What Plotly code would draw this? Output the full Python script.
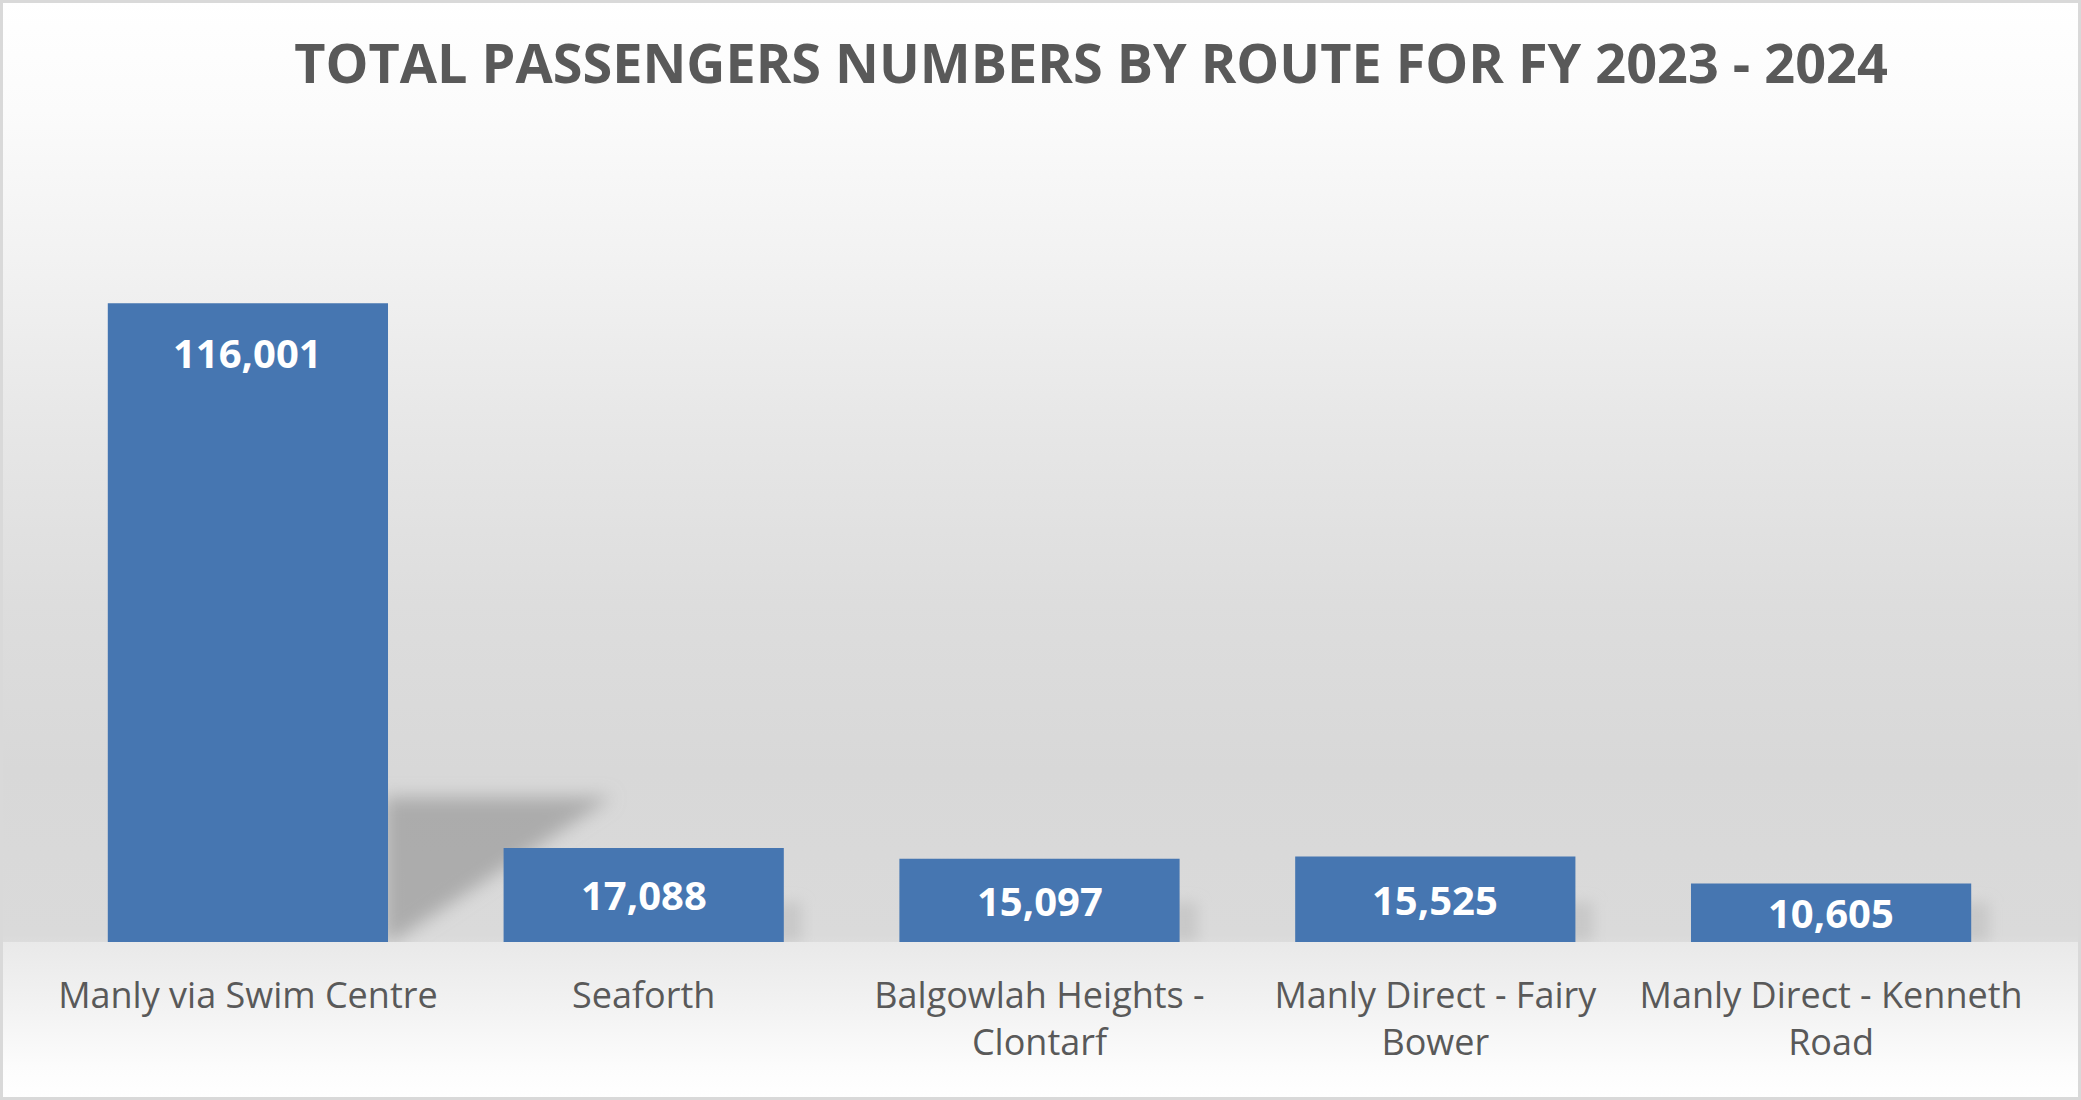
import base64
import plotly.graph_objects as go

# ---- data ----
routes = [
    "Manly via Swim Centre",
    "Seaforth",
    "Balgowlah Heights -<br>Clontarf",
    "Manly Direct - Fairy<br>Bower",
    "Manly Direct - Kenneth<br>Road",
]
passengers = [116001, 17088, 15097, 15525, 10605]
title_text = "TOTAL PASSENGERS NUMBERS BY ROUTE FOR FY 2023 - 2024"

# ---- layout geometry (pixels) ----
W, H = 2081, 1100
ML, MR, MT, MB = 50, 52, 171, 158
plot_w = W - ML - MR
plot_h = H - MT - MB
Y_MAX = 140000
BARGAP = 0.292
n = len(routes)
cat_w = plot_w / n
bar_w = cat_w * (1 - BARGAP)
base_y = MT + plot_h

def bar_px(v):
    return v / Y_MAX * plot_h

# ---- background: wall/floor gradient + soft bar shadows (svg) ----
stops = [
    (0.00, "#ffffff"), (0.10, "#fbfbfb"), (0.25, "#f1f1f1"), (0.40, "#e6e6e6"),
    (0.55, "#dddddd"), (0.70, "#d8d8d8"), (0.85, "#dadada"), (0.8560, "#dcdcdc"),
    (0.8565, "#e9e9e9"), (0.92, "#f3f3f3"), (0.97, "#fcfcfc"), (1.00, "#ffffff"),
]
stop_xml = "".join(f'<stop offset="{o}" stop-color="{c}"/>' for o, c in stops)

shadow_xml = ""
# perspective shadow behind the tallest bar
i_max = passengers.index(max(passengers))
rx = ML + cat_w * (i_max + 0.5) + bar_w / 2
sh_h = 0.227 * bar_px(passengers[i_max])
sh_w = 0.80 * bar_w
shadow_xml += (
    f'<polygon points="{rx - 4},{base_y} {rx - 4},{base_y - sh_h} {rx + sh_w},{base_y - sh_h} '
    f'{rx + 4},{base_y}" fill="#9c9c9c" fill-opacity="0.75" filter="url(#b1)"/>'
)
# small soft drop shadows to the right of the other bars
for i, v in enumerate(passengers):
    if i == i_max:
        continue
    rxi = ML + cat_w * (i + 0.5) + bar_w / 2
    hh = min(bar_px(v), 40)
    shadow_xml += (
        f'<rect x="{rxi - 10}" y="{base_y - hh}" width="28" height="{hh}" '
        f'fill="#bdbdbd" fill-opacity="0.6" filter="url(#b2)"/>'
    )

svg = (
    f'<svg xmlns="http://www.w3.org/2000/svg" width="{W}" height="{H}" '
    f'preserveAspectRatio="none" viewBox="0 0 {W} {H}">'
    f'<defs><linearGradient id="g" x1="0" y1="0" x2="0" y2="1">{stop_xml}</linearGradient>'
    f'<filter id="b1" x="-50%" y="-50%" width="200%" height="200%"><feGaussianBlur stdDeviation="9"/></filter>'
    f'<filter id="b2" x="-50%" y="-50%" width="200%" height="200%"><feGaussianBlur stdDeviation="7"/></filter>'
    f'<clipPath id="c"><rect x="0" y="0" width="{W}" height="{base_y}"/></clipPath></defs>'
    f'<rect x="0" y="0" width="{W}" height="{H}" fill="url(#g)"/>'
    f'<g clip-path="url(#c)">{shadow_xml}</g></svg>'
)
svg_uri = "data:image/svg+xml;base64," + base64.b64encode(svg.encode()).decode()

fig = go.Figure(
    go.Bar(
        x=routes,
        y=passengers,
        marker=dict(color="#4676b1", line=dict(width=0)),
        hoverinfo="skip",
    )
)

# value labels: "inside end" with padding, centred when the bar is short
LABEL_OFFSET = 49
annotations = []
for r, v in zip(routes, passengers):
    annotations.append(
        dict(
            x=r,
            y=v,
            xref="x",
            yref="y",
            text=f"{v:,}",
            showarrow=False,
            yanchor="middle",
            xanchor="center",
            yshift=-min(LABEL_OFFSET, bar_px(v) / 2),
            font=dict(family="Open Sans", size=40, color="#ffffff", weight="bold"),
        )
    )

fig.update_layout(
    width=W,
    height=H,
    margin=dict(l=ML, r=MR, t=MT, b=MB),
    paper_bgcolor="#ffffff",
    plot_bgcolor="rgba(0,0,0,0)",
    bargap=BARGAP,
    showlegend=False,
    annotations=annotations,
    title=dict(
        text=title_text,
        font=dict(family="Open Sans", size=54, color="#595959", weight="bold"),
        x=1091 / W,
        xref="container",
        xanchor="center",
        y=1 - 64 / H,
        yref="container",
        yanchor="middle",
    ),
    xaxis=dict(
        showgrid=False,
        showline=False,
        zeroline=False,
        ticks="",
        tickfont=dict(family="Open Sans", size=36, color="#595959"),
        ticklabelstandoff=29,
        fixedrange=True,
    ),
    yaxis=dict(
        range=[0, Y_MAX],
        visible=False,
        showgrid=False,
        zeroline=False,
        fixedrange=True,
    ),
    images=[
        dict(
            source=svg_uri,
            xref="paper",
            yref="paper",
            x=-ML / plot_w,
            y=(plot_h + MT) / plot_h,
            sizex=W / plot_w,
            sizey=H / plot_h,
            xanchor="left",
            yanchor="top",
            sizing="stretch",
            layer="below",
        )
    ],
    shapes=[
        dict(
            type="rect",
            xref="paper",
            yref="paper",
            x0=-(ML - 1.5) / plot_w,
            x1=1 + (MR - 1.5) / plot_w,
            y0=-(MB - 1.5) / plot_h,
            y1=1 + (MT - 1.5) / plot_h,
            line=dict(color="#d9d9d9", width=3),
            fillcolor="rgba(0,0,0,0)",
            layer="above",
        )
    ],
)

fig.write_html(
    "out.html",
    config={"displayModeBar": False, "responsive": False},
    post_script="document.body.style.margin='0';document.body.style.overflow='hidden';",
)
